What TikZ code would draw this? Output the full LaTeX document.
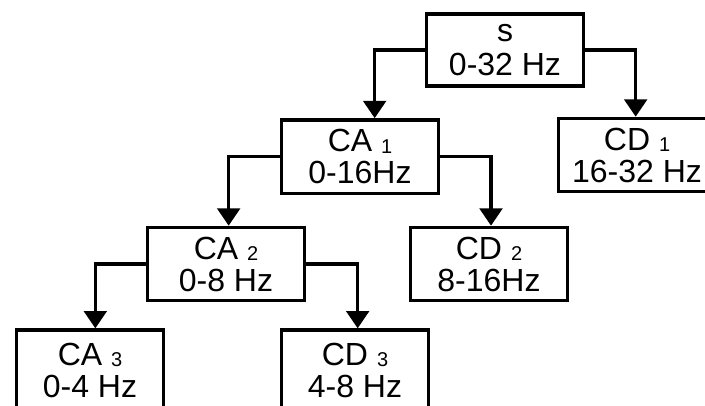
\documentclass[tikz,border=0pt]{standalone}
\usepackage{fontspec}
\setmainfont{Liberation Sans}
\usetikzlibrary{arrows.meta}
\newcommand{\sbx}[1]{ {\fontsize{15}{15}\selectfont\raisebox{-1.3pt}{#1}}}
\tikzset{
  box/.style={draw, line width=2.5pt, minimum width=118pt, minimum height=55pt,
    align=center, inner sep=0pt, font=\fontsize{24}{24}\selectfont},
  sbox/.style={box, minimum width=110pt, minimum height=60pt},
  arr/.style={line width=2.5pt, -{Triangle[width=17pt,length=13pt]}}
}
\begin{document}
\begin{tikzpicture}[x=0.75pt,y=-0.75pt]
\useasboundingbox (0,0) rectangle (705,405);
\node[box, minimum height=54pt, font=\fontsize{24}{26}\selectfont] (s) at (505,50) {s\\0-32 Hz};
\node[box] (cd1) at (637,155) {CD\sbx{1}\\16-32 Hz};
\node[box] (ca1) at (360,156.5) {CA\sbx{1}\\0-16Hz};
\node[box] (cd2) at (489,264) {CD\sbx{2}\\8-16Hz};
\node[box] (ca2) at (226,264) {CA\sbx{2}\\0-8 Hz};
\node[sbox] (ca3) at (90,370) {CA\sbx{3}\\0-4 Hz};
\node[sbox] (cd3) at (355,370) {CD\sbx{3}\\4-8 Hz};
\draw[arr] (s.west) -| ([xshift=11pt]ca1.north);
\draw[arr] (s.east) -| ([xshift=-1pt]cd1.north);
\draw[arr] (ca1.west) -| ([xshift=2pt]ca2.north);
\draw[arr] (ca1.east) -| ([xshift=1.5pt]cd2.north);
\draw[arr] (ca2.west) -| ([xshift=4pt]ca3.north);
\draw[arr] (ca2.east) -| ([xshift=2pt]cd3.north);
\end{tikzpicture}
\end{document}
